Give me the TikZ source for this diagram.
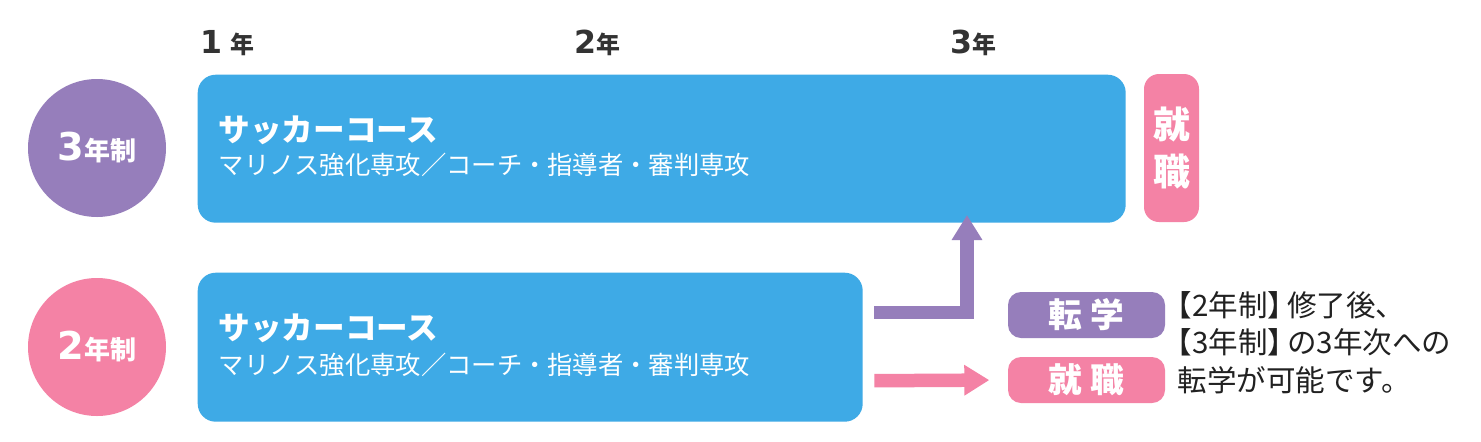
\documentclass[tikz,border=0pt]{standalone}
\usepackage{fontspec}
\newfontfamily\jp{Noto Sans CJK JP}
\newfontfamily\num{DejaVu Sans}
\usepackage{xcolor}
\usetikzlibrary{arrows.meta, positioning, calc}
\definecolor{coursebl}{RGB}{62,170,230}
\definecolor{lilac}{RGB}{150,126,187}
\definecolor{rose}{RGB}{244,130,165}
\definecolor{ink}{RGB}{51,51,51}
\tikzset{
    course/.style={fill=coursebl, rounded corners=0.18cm, inner sep=0, anchor=north west}, % the two course bars
    term/.style={circle, minimum size=1.38cm, inner sep=0, text=white, font=\jp\bfseries},
    tag/.style={rounded corners=0.13cm, minimum width=1.57cm, minimum height=0.46cm, inner sep=0, text=white, font=\jp\bfseries\fontsize{9.6}{11}\selectfont},
    cname/.style={anchor=west, inner sep=0, text=white, font=\jp\bfseries\fontsize{9}{10}\selectfont},
    csub/.style={anchor=west, inner sep=0, text=white, font=\jp\fontsize{7.2}{9}\selectfont},
    year/.style={anchor=base west, inner sep=0, text=ink, font=\bfseries},
    move/.style={line width=0.135cm, -{Triangle[length=2.5mm, width=2.9mm]}}, % fat arrows
}
\newcommand{\yr}[1]{{\num\bfseries\fontsize{9}{10}\selectfont #1}{\jp\bfseries\fontsize{6.8}{8}\selectfont 年}}
\newcommand{\term}[1]{{\num\bfseries\fontsize{10.9}{12}\selectfont #1}{\fontsize{7.4}{9}\selectfont 年制}}

\begin{document}
\begin{tikzpicture}
    \fill[white] (0,0) rectangle (14.81,4.41);
    \useasboundingbox (0,0) rectangle (14.81,4.41);

    % year ruler
    \node[year] (y1) at (2.00,3.88) {\yr{1\hspace{0.08cm}}};
    \node[year] (y2) at (5.74,3.88) {\yr{2}};
    \node[year] (y3) at (9.50,3.88) {\yr{3}};

    % terms
    \node[term, fill=lilac] (c3) at (0.97,2.93) {\term{3}};
    \node[term, fill=rose] (c2) at (0.97,0.94) {\term{2}};

    % courses
    \node[course, minimum width=9.28cm, minimum height=1.48cm] (three) at (1.97,3.67) {};
    \node[course, minimum width=6.65cm, minimum height=1.49cm] (two) at (1.97,1.69) {};
    \node[cname] (n3) at (2.18,3.11) {サッカーコース};
    \node[csub] (s3) at (2.18,2.76) {マリノス強化専攻／コーチ・指導者・審判専攻};
    \node[cname] (n2) at (2.18,1.13) {サッカーコース};
    \node[csub] (s2) at (2.18,0.76) {マリノス強化専攻／コーチ・指導者・審判専攻};

    % outcomes
    \node[fill=rose, rounded corners=0.15cm, minimum width=0.55cm, minimum height=1.48cm, inner sep=0,
          text=white, align=center, font=\jp\bfseries\fontsize{10.5}{13.4}\selectfont] (job3) at (11.715,2.93) {就\\職};
    \node[tag, fill=lilac] (shift) at (10.865,1.26) {転 学};
    \node[tag, fill=rose] (job2) at (10.865,0.61) {就 職};
    \node[anchor=west, inner sep=0, align=left, text=black!87, font=\jp\fontsize{8.4}{10.7}\selectfont] (note) at (11.77,0.985)
        {\hspace*{-0.5em}【2年制】\hspace{-0.35em}修了後、\\\hspace*{-0.5em}【3年制】\hspace{-0.35em}の3年次への\\転学が可能です。};

    % arrows
    \coordinate (rise) at (9.67,2.26);
    \draw[move, lilac] ($(two.east)+(0.11,0.345)$) -| (rise);
    \draw[move, rose, shorten >=1.8mm] ($(two.east)+(0.11,-0.335)$) -- (job2.west);
\end{tikzpicture}
\end{document}
